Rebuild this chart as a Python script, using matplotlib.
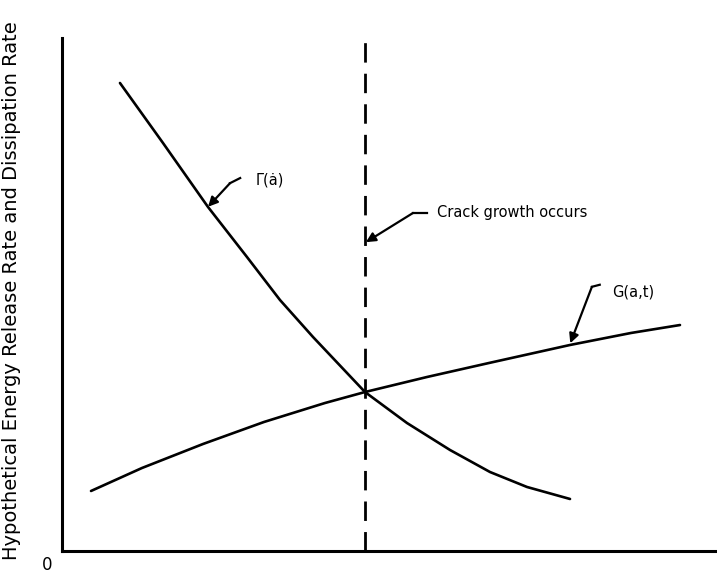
import matplotlib.pyplot as plt

# dissipation rate curve (decreasing)
gamma_x = [0.885, 1.542, 2.229, 2.824, 3.328, 3.832, 4.626, 5.267, 5.924, 6.534, 7.099, 7.756]
gamma_y = [9.123, 7.953, 6.706, 5.731, 4.893, 4.172, 3.099, 2.495, 1.969, 1.540, 1.248, 1.014]

# energy release rate curve (increasing)
g_x = [0.443, 1.221, 2.153, 3.084, 4.015, 4.626, 5.573, 6.519, 7.756, 8.687, 9.435]
g_y = [1.170, 1.618, 2.086, 2.515, 2.885, 3.099, 3.392, 3.665, 4.016, 4.250, 4.405]

crack_x = 4.626

ylabel = "Hypothetical Energy Release Rate and Dissipation Rate"
gamma_label = "Γ(ȧ)"
g_label = "G(a,t)"
crack_label = "Crack growth occurs"

fig = plt.figure(figsize=(7.17, 5.84), dpi=100)
ax = fig.add_axes([62 / 717, 33 / 584, 1 - 62 / 717, 546 / 584 - 33 / 584])
ax.set_xlim(0, 10)
ax.set_ylim(0, 10)

ax.plot(gamma_x, gamma_y, color="black", lw=1.9, solid_capstyle="round")
ax.plot(g_x, g_y, color="black", lw=1.9, solid_capstyle="round")
ax.axvline(crack_x, ymax=0.992, color="black", lw=2.0, ls=(0, (7, 4)))


def callout(text, head, tail, hook, text_pos):
    # arrow with a short hooked tail, as in the hand-drawn original
    ax.annotate("", xy=head, xytext=tail,
                arrowprops=dict(arrowstyle="-|>", color="black", lw=1.6,
                                mutation_scale=14, shrinkA=0, shrinkB=0))
    ax.plot([tail[0], hook[0]], [tail[1], hook[1]], color="black", lw=1.6)
    ax.text(text_pos[0], text_pos[1], text, fontsize=10.5, ha="left", va="center")


callout(gamma_label, (2.23, 6.71), (2.565, 7.17), (2.72, 7.27), (2.95, 7.23))
callout(crack_label, (4.64, 6.02), (5.36, 6.59), (5.57, 6.59), (5.72, 6.59))
callout(g_label, (7.76, 4.05), (8.09, 5.15), (8.21, 5.19), (8.40, 5.05))

for side in ["top", "right"]:
    ax.spines[side].set_visible(False)
for side in ["left", "bottom"]:
    ax.spines[side].set_linewidth(2.2)
ax.set_xticks([])
ax.set_yticks([])

fig.text(47 / 717, 1 - 565 / 584, "0", fontsize=12, ha="center", va="center")
fig.text(12 / 717, 1 - 291 / 584, ylabel, fontsize=14, rotation=90,
         ha="center", va="center")

fig.savefig("out.png", dpi=100)
